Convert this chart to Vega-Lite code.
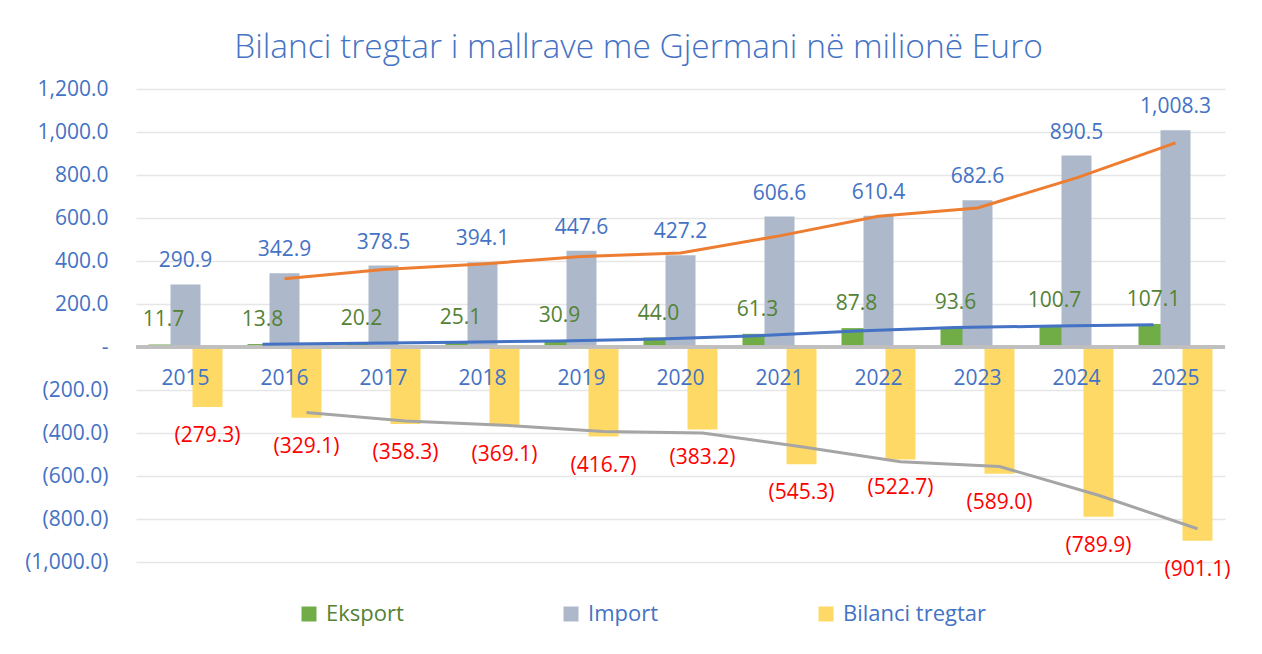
{
  "$schema": "https://vega.github.io/schema/vega-lite/v6.json",
  "autosize": "none",
  "width": 1089,
  "height": 473,
  "padding": {"left": 136, "top": 89, "right": 37, "bottom": 92},
  "background": "white",
  "title": {
    "text": "Bilanci tregtar i mallrave me Gjermani në milionë Euro",
    "font": "Open Sans",
    "fontSize": 33.5,
    "fontWeight": 300,
    "color": "#4472c4",
    "anchor": "middle",
    "dx": -42,
    "offset": 13
  },
  "config": {
    "view": {"stroke": null},
    "font": "Open Sans"
  },
  "datasets": {
    "bars": [
      {"year": "2015", "series": "Eksport", "value": 11.7},
      {"year": "2016", "series": "Eksport", "value": 13.8},
      {"year": "2017", "series": "Eksport", "value": 20.2},
      {"year": "2018", "series": "Eksport", "value": 25.1},
      {"year": "2019", "series": "Eksport", "value": 30.9},
      {"year": "2020", "series": "Eksport", "value": 44.0},
      {"year": "2021", "series": "Eksport", "value": 61.3},
      {"year": "2022", "series": "Eksport", "value": 87.8},
      {"year": "2023", "series": "Eksport", "value": 93.6},
      {"year": "2024", "series": "Eksport", "value": 100.7},
      {"year": "2025", "series": "Eksport", "value": 107.1},
      {"year": "2015", "series": "Import", "value": 290.9},
      {"year": "2016", "series": "Import", "value": 342.9},
      {"year": "2017", "series": "Import", "value": 378.5},
      {"year": "2018", "series": "Import", "value": 394.1},
      {"year": "2019", "series": "Import", "value": 447.6},
      {"year": "2020", "series": "Import", "value": 427.2},
      {"year": "2021", "series": "Import", "value": 606.6},
      {"year": "2022", "series": "Import", "value": 610.4},
      {"year": "2023", "series": "Import", "value": 682.6},
      {"year": "2024", "series": "Import", "value": 890.5},
      {"year": "2025", "series": "Import", "value": 1008.3},
      {"year": "2015", "series": "Bilanci tregtar", "value": -279.3},
      {"year": "2016", "series": "Bilanci tregtar", "value": -329.1},
      {"year": "2017", "series": "Bilanci tregtar", "value": -358.3},
      {"year": "2018", "series": "Bilanci tregtar", "value": -369.1},
      {"year": "2019", "series": "Bilanci tregtar", "value": -416.7},
      {"year": "2020", "series": "Bilanci tregtar", "value": -383.2},
      {"year": "2021", "series": "Bilanci tregtar", "value": -545.3},
      {"year": "2022", "series": "Bilanci tregtar", "value": -522.7},
      {"year": "2023", "series": "Bilanci tregtar", "value": -589.0},
      {"year": "2024", "series": "Bilanci tregtar", "value": -789.9},
      {"year": "2025", "series": "Bilanci tregtar", "value": -901.1}
    ],
    "trend": [
      {"year": "2016", "series": "Eksport", "ma": 12.75},
      {"year": "2017", "series": "Eksport", "ma": 17.0},
      {"year": "2018", "series": "Eksport", "ma": 22.65},
      {"year": "2019", "series": "Eksport", "ma": 28.0},
      {"year": "2020", "series": "Eksport", "ma": 37.45},
      {"year": "2021", "series": "Eksport", "ma": 52.65},
      {"year": "2022", "series": "Eksport", "ma": 74.55},
      {"year": "2023", "series": "Eksport", "ma": 90.7},
      {"year": "2024", "series": "Eksport", "ma": 97.15},
      {"year": "2025", "series": "Eksport", "ma": 103.9},
      {"year": "2016", "series": "Import", "ma": 316.9},
      {"year": "2017", "series": "Import", "ma": 360.7},
      {"year": "2018", "series": "Import", "ma": 386.3},
      {"year": "2019", "series": "Import", "ma": 420.85},
      {"year": "2020", "series": "Import", "ma": 437.4},
      {"year": "2021", "series": "Import", "ma": 516.9},
      {"year": "2022", "series": "Import", "ma": 608.5},
      {"year": "2023", "series": "Import", "ma": 646.5},
      {"year": "2024", "series": "Import", "ma": 786.55},
      {"year": "2025", "series": "Import", "ma": 949.4},
      {"year": "2016", "series": "Bilanci tregtar", "ma": -304.2},
      {"year": "2017", "series": "Bilanci tregtar", "ma": -343.7},
      {"year": "2018", "series": "Bilanci tregtar", "ma": -363.7},
      {"year": "2019", "series": "Bilanci tregtar", "ma": -392.9},
      {"year": "2020", "series": "Bilanci tregtar", "ma": -399.95},
      {"year": "2021", "series": "Bilanci tregtar", "ma": -464.25},
      {"year": "2022", "series": "Bilanci tregtar", "ma": -534.0},
      {"year": "2023", "series": "Bilanci tregtar", "ma": -555.85},
      {"year": "2024", "series": "Bilanci tregtar", "ma": -689.45},
      {"year": "2025", "series": "Bilanci tregtar", "ma": -845.5}
    ],
    "years": [
      {"year": "2015"}, {"year": "2016"}, {"year": "2017"}, {"year": "2018"},
      {"year": "2019"}, {"year": "2020"}, {"year": "2021"}, {"year": "2022"},
      {"year": "2023"}, {"year": "2024"}, {"year": "2025"}
    ]
  },
  "data": {"name": "bars"},
  "encoding": {
    "x": {
      "field": "year",
      "type": "ordinal",
      "scale": {"paddingInner": 0, "paddingOuter": 0},
      "axis": null
    }
  },
  "layer": [
    {
      "transform": [{"filter": "datum.series === 'Eksport'"}],
      "mark": {"type": "bar", "width": 30, "xOffset": -22},
      "encoding": {
        "y": {
          "field": "value",
          "type": "quantitative",
          "scale": {"domain": [-1000, 1200], "nice": false, "zero": false},
          "axis": {
            "title": null,
            "values": [-1000, -800, -600, -400, -200, 0, 200, 400, 600, 800, 1000, 1200],
            "labelExpr": "datum.value === 0 ? '-' : format(datum.value, '(,.1f')",
            "labelFont": "Open Sans",
            "labelFontSize": 21,
            "labelColor": "#4472c4",
            "labelPadding": 28,
            "domain": false,
            "ticks": false,
            "grid": true,
            "gridColor": "#e6e6e6",
            "gridWidth": 1.5
          }
        },
        "color": {
          "field": "series",
          "type": "nominal",
          "scale": {
            "domain": ["Eksport", "Import", "Bilanci tregtar"],
            "range": ["#70ad47", "#adb9ca", "#ffd966"]
          },
          "legend": {
            "title": null,
            "orient": "none",
            "direction": "horizontal",
            "legendX": 162,
            "legendY": 514,
            "padding": 0,
            "symbolType": "square",
            "symbolSize": 225,
            "symbolStrokeWidth": 0,
            "labelFont": "Open Sans",
            "labelFontSize": 22,
            "labelOffset": 6,
            "columnPadding": 156,
            "labelLimit": 400,
            "encode": {
              "labels": {
                "update": {
                  "fill": {"signal": "datum.label === 'Eksport' ? '#548235' : '#4472c4'"}
                }
              }
            }
          }
        }
      }
    },
    {
      "transform": [{"filter": "datum.series === 'Import'"}],
      "mark": {"type": "bar", "width": 30, "xOffset": 0},
      "encoding": {
        "y": {"field": "value", "type": "quantitative"},
        "color": {"field": "series", "type": "nominal"}
      }
    },
    {
      "transform": [{"filter": "datum.series === 'Bilanci tregtar'"}],
      "mark": {"type": "bar", "width": 30, "xOffset": 22},
      "encoding": {
        "y": {"field": "value", "type": "quantitative"},
        "color": {"field": "series", "type": "nominal"}
      }
    },
    {
      "mark": {"type": "rule", "color": "#bfbfbf", "strokeWidth": 2.5},
      "encoding": {"y": {"datum": 0}, "x": null}
    },
    {
      "data": {"name": "trend"},
      "transform": [{"filter": "datum.series === 'Eksport'"}],
      "mark": {"type": "line", "color": "#4472c4", "strokeWidth": 3, "xOffset": -22},
      "encoding": {"y": {"field": "ma", "type": "quantitative"}}
    },
    {
      "data": {"name": "trend"},
      "transform": [{"filter": "datum.series === 'Import'"}],
      "mark": {"type": "line", "color": "#ed7d31", "strokeWidth": 3, "xOffset": 0},
      "encoding": {"y": {"field": "ma", "type": "quantitative"}}
    },
    {
      "data": {"name": "trend"},
      "transform": [{"filter": "datum.series === 'Bilanci tregtar'"}],
      "mark": {"type": "line", "color": "#a5a5a5", "strokeWidth": 3, "xOffset": 22},
      "encoding": {"y": {"field": "ma", "type": "quantitative"}}
    },
    {
      "transform": [{"filter": "datum.series === 'Eksport'"}],
      "mark": {"type": "text", "font": "Open Sans", "fontSize": 21, "color": "#548235", "xOffset": -22, "dy": -24, "baseline": "middle"},
      "encoding": {
        "y": {"field": "value", "type": "quantitative"},
        "text": {"field": "value", "type": "quantitative", "format": ",.1f"}
      }
    },
    {
      "transform": [{"filter": "datum.series === 'Import'"}],
      "mark": {"type": "text", "font": "Open Sans", "fontSize": 21, "color": "#4472c4", "xOffset": 0, "dy": -23, "baseline": "middle"},
      "encoding": {
        "y": {"field": "value", "type": "quantitative"},
        "text": {"field": "value", "type": "quantitative", "format": ",.1f"}
      }
    },
    {
      "transform": [{"filter": "datum.series === 'Bilanci tregtar'"}],
      "mark": {"type": "text", "font": "Open Sans", "fontSize": 21, "color": "#ff0000", "xOffset": 22, "dy": 29, "baseline": "middle"},
      "encoding": {
        "y": {"field": "value", "type": "quantitative"},
        "text": {"field": "value", "type": "quantitative", "format": "(,.1f"}
      }
    },
    {
      "data": {"name": "years"},
      "mark": {"type": "text", "font": "Open Sans", "fontSize": 21, "color": "#4472c4", "dy": 32, "baseline": "middle"},
      "encoding": {
        "y": {"datum": 0},
        "text": {"field": "year", "type": "nominal"}
      }
    }
  ]
}
